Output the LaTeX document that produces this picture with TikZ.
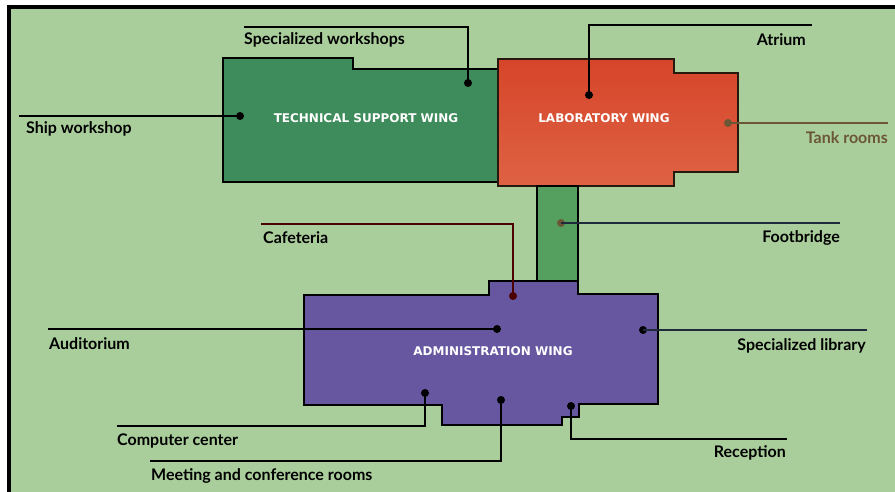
\documentclass[tikz,border=0pt]{standalone}
\usepackage{fontspec}
\setmainfont{Lato}
\newfontfamily\wingfont{DejaVu Sans}
\definecolor{plangreen}{HTML}{A9CE9B}
\definecolor{techgreen}{HTML}{3E8B5B}
\definecolor{labred}{HTML}{D6452A}
\definecolor{labredlight}{HTML}{DE6244}
\definecolor{adminpurple}{HTML}{6657A0}
\definecolor{bridgegreen}{HTML}{55A05E}
\definecolor{tankbrown}{HTML}{6B5636}
\definecolor{inkblue}{HTML}{1E2A3C}

\begin{document}
\begin{tikzpicture}[x=1pt, y=-1pt,
  wall/.style={line width=1.8pt, draw=black, line join=miter},
  leader/.style={line width=1.4pt, draw=black},
  pin/.style={circle, fill=black, inner sep=0pt, minimum size=8pt},
  roomlabel/.style={font=\bfseries\fontsize{16}{18}\selectfont, inner sep=0pt},
  winglabel/.style={font=\wingfont\bfseries\fontsize{12}{14}\selectfont, text=white, inner sep=0pt}]

  \useasboundingbox (0,0) rectangle (895,492);

  % -- background and frame --
  \fill[plangreen] (7,5) rectangle (895,492);
  \draw[line width=4pt, black] (7,7) -- (895,7);
  \draw[line width=4pt, black] (9,5) -- (9,492);

  % -- wings --
  \filldraw[wall, fill=techgreen] (223,58) -- (353,58) -- (353,69) -- (498,69)
    -- (498,182) -- (223,182) -- cycle;
  \path[wall, draw=black!80!brown, top color=labred, bottom color=labredlight]
    (498,59) -- (674,59) -- (674,73) -- (738,73) -- (738,172) -- (674,172)
    -- (674,186) -- (498,186) -- cycle;
  \filldraw[wall, fill=bridgegreen] (537,186) rectangle (578,281);
  \filldraw[wall, fill=adminpurple] (304,295) -- (489,295) -- (489,281) -- (578,281)
    -- (578,294) -- (658,294) -- (658,404) -- (579,404) -- (579,417) -- (562,417)
    -- (562,425) -- (442,425) -- (442,405) -- (304,405) -- cycle;

  \node[winglabel] (tsw) at (366,118) {TECHNICAL SUPPORT WING};
  \node[winglabel] (lw) at (604,118) {LABORATORY WING};
  \node[winglabel] (aw) at (493,351) {ADMINISTRATION WING};

  % -- pins --
  \node[pin] (shipdot) at (240,116) {};
  \node[pin] (specdot) at (468,83) {};
  \node[pin] (atrdot) at (589,95) {};
  \node[pin, fill=tankbrown] (tankdot) at (728,123) {};
  \node[pin, fill=tankbrown] (footdot) at (561,223) {};
  \node[pin, fill=black!70!red] (cafdot) at (513,296) {};
  \node[pin] (auddot) at (497,329) {};
  \node[pin] (libdot) at (643,330) {};
  \node[pin] (compdot) at (425,393) {};
  \node[pin] (meetdot) at (501,400) {};
  \node[pin] (recdot) at (571,406) {};

  % -- leader ends --
  \coordinate (shipend) at (19,116);
  \coordinate (specend) at (244,27);
  \coordinate (atrend) at (812,25);
  \coordinate (tankend) at (888,123);
  \coordinate (footend) at (840,223);
  \coordinate (cafend) at (261,224);
  \coordinate (audend) at (48,329);
  \coordinate (libend) at (867,330);
  \coordinate (compend) at (117,426);
  \coordinate (meetend) at (150,461);
  \coordinate (recend) at (787,439);

  % -- leaders --
  \draw[leader] (shipdot.center) -- (shipend);
  \draw[leader] (specdot.center) |- (specend);
  \draw[leader] (atrdot.center) |- (atrend);
  \draw[leader, draw=tankbrown] (tankdot.center) -- (tankend);
  \draw[leader, draw=inkblue] (footdot.center) -- (footend);
  \draw[leader, draw=black!70!red] (cafdot.center) |- (cafend);
  \draw[leader] (auddot.center) -- (audend);
  \draw[leader, draw=inkblue] (libdot.center) -- (libend);
  \draw[leader] (compdot.center) |- (compend);
  \draw[leader] (meetdot.center) |- (meetend);
  \draw[leader] (recdot.center) |- (recend);

  % -- room labels --
  \node[roomlabel, anchor=west] (ship) at (26,129) {Ship workshop};
  \node[roomlabel, anchor=west] (spec) at (244,40) {Specialized workshops};
  \node[roomlabel, anchor=east] (atr) at (806,40) {Atrium};
  \node[roomlabel, anchor=east, text=tankbrown] (tank) at (888,138) {Tank rooms};
  \node[roomlabel, anchor=west] (caf) at (263,238) {Cafeteria};
  \node[roomlabel, anchor=east] (foot) at (840,238) {Footbridge};
  \node[roomlabel, anchor=west] (aud) at (49,344) {Auditorium};
  \node[roomlabel, anchor=east] (lib) at (866,346) {Specialized library};
  \node[roomlabel, anchor=west] (comp) at (117,441) {Computer center};
  \node[roomlabel, anchor=west] (meet) at (151,476) {Meeting and conference rooms};
  \node[roomlabel, anchor=east] (rec) at (786,453) {Reception};

\end{tikzpicture}
\end{document}
